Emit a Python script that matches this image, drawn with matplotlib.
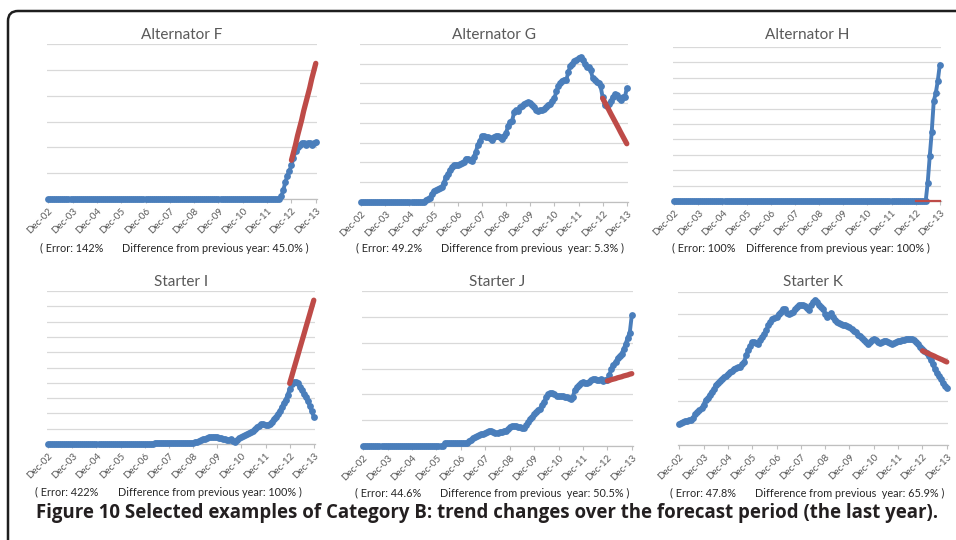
import numpy as np
import matplotlib
matplotlib.use("Agg")
import matplotlib.pyplot as plt
from matplotlib.patches import FancyBboxPatch

plt.rcParams['font.family'] = ['Lato', 'DejaVu Sans']

# monthly values, Dec-02 .. Dec-13 (133 points), in gridline units
alt_f = [0.0] * 115 + [0.1, 0.35, 0.65, 0.9, 1.1, 1.3, 1.6, 1.85, 2.0, 2.1, 2.15, 2.15,
                       2.1, 2.15, 2.15, 2.1, 2.15, 2.2]
alt_g = [0.0] * 32 + [0.1, 0.15, 0.2, 0.4, 0.55, 0.6, 0.65, 0.7, 0.75, 0.95, 1.25, 1.4,
                      1.6, 1.75, 1.85, 1.85, 1.85, 1.9, 1.95, 2.05, 2.2, 2.2, 2.15, 2.1,
                      2.3, 2.55, 2.9, 3.1, 3.35, 3.35, 3.3, 3.3, 3.25, 3.15, 3.3, 3.35,
                      3.35, 3.3, 3.2, 3.35, 3.5, 3.85, 4.05, 4.1, 4.55, 4.65, 4.6, 4.8,
                      4.85, 4.95, 5.0, 5.05, 5.0, 4.9, 4.8, 4.65, 4.6, 4.65, 4.65, 4.7,
                      4.8, 4.9, 4.95, 5.1, 5.25, 5.6, 5.85, 6.05, 6.15, 6.2, 6.2, 6.6,
                      6.9, 7.0, 7.15, 7.2, 7.3, 7.35, 7.2, 7.0, 6.85, 6.85, 6.7, 6.3,
                      6.2, 6.1, 6.05, 5.85, 5.3, 4.9, 4.85, 4.95, 5.1, 5.3, 5.45, 5.4,
                      5.25, 5.15, 5.3, 5.3, 5.75]
alt_h = [0.0] * 126 + [1.2, 2.9, 4.5, 6.5, 7.0, 7.8, 8.85]
start_i = [0.0] * 53 + [0.08] * 20 + [0.12, 0.15, 0.2, 0.25, 0.3, 0.35, 0.4, 0.43, 0.45, 0.48,
                                       0.48, 0.47, 0.42, 0.37, 0.32, 0.3, 0.28, 0.26, 0.3, 0.22,
                                       0.15, 0.25, 0.37, 0.45, 0.52, 0.59, 0.65, 0.72, 0.8, 0.88,
                                       0.98, 1.08, 1.15, 1.3, 1.28, 1.24, 1.25, 1.32, 1.45, 1.62,
                                       1.78, 1.95, 2.15, 2.4, 2.65, 2.9, 3.2, 3.6, 3.9, 4.05,
                                       4.07, 3.96, 3.75, 3.5, 3.3, 3.05, 2.8, 2.5, 2.15, 1.78]
start_j = [0.0] * 40 + [0.1] * 12 + [0.18, 0.25, 0.3, 0.35, 0.38, 0.42, 0.45, 0.48, 0.51, 0.55,
                                      0.58, 0.59, 0.55, 0.5, 0.52, 0.53, 0.55, 0.58, 0.6, 0.64,
                                      0.72, 0.77, 0.77, 0.77, 0.75, 0.72, 0.68, 0.7, 0.8, 0.92,
                                      1.05, 1.13, 1.22, 1.3, 1.38, 1.45, 1.6, 1.72, 1.9, 2.0,
                                      2.04, 2.04, 2.0, 1.95, 1.93, 1.92, 1.92, 1.9, 1.88, 1.84,
                                      1.83, 1.9, 2.16, 2.28, 2.36, 2.45, 2.48, 2.45, 2.42, 2.48,
                                      2.55, 2.58, 2.6, 2.55, 2.55, 2.58, 2.52, 2.55, 2.55, 2.75,
                                      3.0, 3.15, 3.26, 3.4, 3.5, 3.58, 3.75, 3.95, 4.2, 4.38,
                                      5.06]
start_k = [0.96, 1.02, 1.07, 1.08, 1.12, 1.14, 1.15, 1.22, 1.4, 1.52, 1.6, 1.67, 1.85, 2.05,
           2.13, 2.3, 2.44, 2.55, 2.74, 2.85, 2.95, 3.04, 3.1, 3.15, 3.25, 3.35, 3.4, 3.5,
           3.52, 3.55, 3.58, 3.7, 3.8, 4.1, 4.34, 4.55, 4.72, 4.7, 4.65, 4.64, 4.79, 4.95,
           5.1, 5.25, 5.5, 5.63, 5.78, 5.82, 5.86, 6.0, 6.09, 6.2, 6.24, 6.05, 6.01, 6.05,
           6.09, 6.2, 6.3, 6.39, 6.4, 6.39, 6.35, 6.25, 6.16, 6.4, 6.54, 6.65, 6.55, 6.39,
           6.3, 6.24, 6.0, 5.86, 5.95, 6.04, 5.85, 5.71, 5.62, 5.56, 5.52, 5.5, 5.48, 5.45,
           5.4, 5.3, 5.22, 5.18, 5.05, 5.0, 4.88, 4.79, 4.7, 4.64, 4.7, 4.8, 4.87, 4.8,
           4.72, 4.67, 4.72, 4.77, 4.75, 4.7, 4.66, 4.64, 4.68, 4.72, 4.74, 4.77, 4.79, 4.82,
           4.85, 4.87, 4.86, 4.83, 4.79, 4.7, 4.6, 4.49, 4.4, 4.3, 4.2, 4.05, 3.9, 3.7,
           3.5, 3.3, 3.15, 3.0, 2.82, 2.7, 2.59]

# forecast over the last year (Dec-12 .. Dec-13)
fc_f = [1.5, 1.8, 2.1, 2.45, 2.75, 3.05, 3.4, 3.7, 4.0, 4.3, 4.65, 4.95, 5.25]
fc_g = [5.25, 5.06, 4.87, 4.68, 4.48, 4.29, 4.1, 3.91, 3.72, 3.52, 3.33, 3.14, 2.95]
fc_h = [0.0] * 13
fc_i = [3.96, 4.41, 4.87, 5.32, 5.77, 6.23, 6.68, 7.13, 7.59, 8.04, 8.49, 8.95, 9.4]
fc_j = [2.52, 2.54, 2.57, 2.59, 2.61, 2.64, 2.66, 2.68, 2.71, 2.73, 2.75, 2.78, 2.8]
fc_k = [4.31, 4.27, 4.23, 4.18, 4.14, 4.1, 4.06, 4.01, 3.97, 3.93, 3.89, 3.84, 3.8]

titles = ["Alternator F", "Alternator G", "Alternator H", "Starter I", "Starter J", "Starter K"]
errors = ["( Error: 142%", "( Error: 49.2%", "( Error: 100%",
          "( Error: 422%", "( Error: 44.6%", "( Error: 47.8%"]
diffs = ["Difference from previous year: 45.0% )", "Difference from previous  year: 5.3% )",
         "Difference from previous year: 100% )", "Difference from previous year: 100% )",
         "Difference from previous  year: 50.5% )", "Difference from previous  year: 65.9% )"]
tick_labels = ["Dec-%02d" % y for y in range(2, 14)]
grid_tops = [6, 8, 10, 10, 6, 7]

actual = [alt_f, alt_g, alt_h, start_i, start_j, start_k]
forecast = [fc_f, fc_g, fc_h, fc_i, fc_j, fc_k]
for s in actual:
    assert len(s) == 133, len(s)

BLUE = "#4a7ebb"
RED = "#be4b48"
W, H = 956, 540

# axes boxes in pixels: left, right, top, bottom
boxes = [(47, 317, 44, 199), (360, 628, 44, 202), (673, 941, 47, 201),
         (47, 315, 291, 444), (362, 633, 291, 446), (678, 948, 292, 445)]
title_y = [35, 35, 35, 282, 282, 282]
# text x positions (error, difference) and y centre
notes = [(40, 122, 248), (356, 441, 248), (672, 746, 248),
         (35, 118, 492), (355, 440, 493), (670, 755, 493)]

fig = plt.figure(figsize=(W / 100, H / 100), dpi=100)

box = FancyBboxPatch((0.08, -0.4), 10.0, 5.4 - 0.11 + 0.4,
                     boxstyle="round,pad=0,rounding_size=0.1",
                     transform=fig.dpi_scale_trans, fill=False,
                     edgecolor="#1e1e1e", linewidth=1.8, clip_on=False)
fig.patches.append(box)

months = np.arange(133)
for k in range(6):
    l, r, t, b = boxes[k]
    ax = fig.add_axes([l / W, 1 - b / H, (r - l) / W, (b - t) / H])
    top = grid_tops[k]
    ax.set_xlim(-0.6, 132.6)
    ax.set_ylim(0, top)
    ax.set_yticks(np.arange(0, top + 1))
    ax.yaxis.grid(True, color="#d9d9d9", linewidth=0.9)
    ax.set_axisbelow(True)
    ax.tick_params(axis="y", left=False, labelleft=False)
    for side in ["top", "right", "left"]:
        ax.spines[side].set_visible(False)
    ax.spines["bottom"].set_color("#bfbfbf")
    ax.spines["bottom"].set_linewidth(0.9)
    ax.set_xticks(months[::12])
    ax.set_xticklabels(tick_labels, rotation=45, ha="right", va="top",
                       rotation_mode="anchor", fontsize=7, color="#595959")
    ax.tick_params(axis="x", length=3, width=0.8, color="#bfbfbf", pad=2)

    ax.plot(months, actual[k], color=BLUE, lw=2.8, marker="o", ms=4.9,
            markeredgewidth=0, clip_on=False, zorder=3, solid_capstyle="round")
    if k == 2:
        ax.plot(months[120:], forecast[k], color=RED, lw=1.6, clip_on=False, zorder=4)
    else:
        ax.plot(months[120:], forecast[k], color=RED, lw=3.8, clip_on=False, zorder=4,
                solid_capstyle="round")

    fig.text((l + r) / 2 / W, 1 - title_y[k] / H, titles[k], ha="center", va="center",
             fontsize=11, color="#595959")
    ex, dx, ny = notes[k]
    fig.text(ex / W, 1 - ny / H, errors[k], ha="left", va="center", fontsize=7.8, color="#262626")
    fig.text(dx / W, 1 - ny / H, diffs[k], ha="left", va="center", fontsize=7.8, color="#262626")

cap = fig.text(36 / W, 1 - 513 / H,
               "Figure 10 Selected examples of Category B: trend changes over the forecast period (the last year).",
               ha="left", va="center", fontsize=13, fontweight="bold",
               family=["Open Sans", "DejaVu Sans"], color="#231f20")
fig.canvas.draw()
ext = cap.get_window_extent()
cap.set_fontsize(13 * 894 / ext.width)

fig.savefig("out.png", dpi=100)
